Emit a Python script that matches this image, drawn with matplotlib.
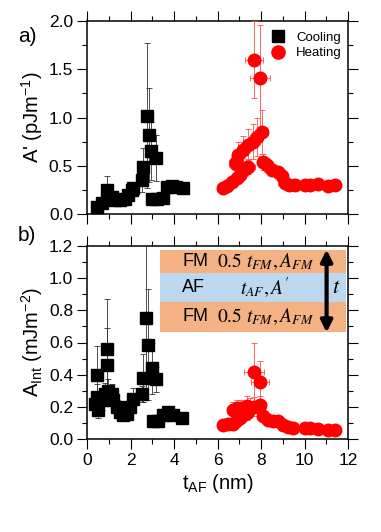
import matplotlib
matplotlib.use("Agg")
import matplotlib.pyplot as plt
from matplotlib.patches import Rectangle
from matplotlib.lines import Line2D
from matplotlib.ticker import MultipleLocator

plt.rcParams['font.family'] = ['Liberation Sans', 'DejaVu Sans']
plt.rcParams['mathtext.fontset'] = 'stix'

# ---------- Data: panel a (A') ----------
cool_a_x = [0.45, 0.67, 0.90, 1.13, 1.29, 1.52, 1.75, 1.90, 2.05, 2.12, 2.51, 2.59,
            2.74, 2.85, 2.94, 3.17, 2.97, 3.20, 3.50, 3.66, 3.90, 4.10, 4.43]
cool_a_y = [0.07, 0.11, 0.25, 0.18, 0.14, 0.145, 0.16, 0.20, 0.25, 0.27, 0.35, 0.49,
            1.02, 0.82, 0.65, 0.58, 0.16, 0.16, 0.17, 0.28, 0.29, 0.28, 0.27]
cool_a_yerr = [0.03, 0.03, 0.14, 0.04, 0.03, 0.03, 0.03, 0.05, 0.06, 0.06, 0.12, 0.19,
               0.75, 0.49, 0.30, 0.24, 0.03, 0.03, 0.03, 0.04, 0.04, 0.03, 0.03]

heat_a_x = [6.83, 6.85, 6.96, 7.19, 7.40, 7.65, 7.80, 8.03,
            7.69, 7.95,
            6.27, 6.42, 6.65, 6.88, 7.03, 7.26, 7.41,
            8.11, 8.26, 8.49, 8.80, 8.95, 9.10, 9.30, 9.56, 10.02, 10.26, 10.64, 11.10, 11.40]
heat_a_y = [0.52, 0.54, 0.61, 0.66, 0.72, 0.75, 0.80, 0.85,
            1.60, 1.41,
            0.27, 0.29, 0.33, 0.37, 0.40, 0.47, 0.49,
            0.54, 0.51, 0.46, 0.44, 0.39, 0.32, 0.30, 0.30, 0.30, 0.30, 0.31, 0.29, 0.30]
heat_a_yerr = [0.10, 0.12, 0.14, 0.15, 0.16, 0.18, 0.20, 0.23,
               0.40, 0.55,
               0.04, 0.04, 0.05, 0.06, 0.07, 0.08, 0.08,
               0.08, 0.07, 0.06, 0.05, 0.05, 0.03, 0.03, 0.03, 0.02, 0.02, 0.02, 0.02, 0.02]
heat_a_xerr = [0.30, 0.30, 0.30, 0.30, 0.30, 0.30, 0.30, 0.30,
               0.42, 0.45,
               0.30, 0.30, 0.30, 0.30, 0.30, 0.30, 0.30,
               0.30, 0.30, 0.30, 0.30, 0.30, 0.30, 0.30, 0.30, 0.30, 0.30, 0.30, 0.30, 0.30]

# ---------- Data: panel b (A_Int) ----------
cool_b_x = [0.47, 0.90, 0.90, 0.45, 0.37, 0.52, 0.68, 0.83, 0.98, 1.13, 1.20, 1.37,
            1.52, 1.67, 1.82, 1.98, 2.13, 2.51, 2.71, 2.82, 2.59, 2.97, 3.16,
            3.05, 3.28, 3.50, 3.74, 3.97, 4.35]
cool_b_y = [0.40, 0.56, 0.46, 0.26, 0.22, 0.18, 0.24, 0.28, 0.30, 0.28, 0.24, 0.20,
            0.17, 0.15, 0.155, 0.20, 0.25, 0.28, 0.755, 0.585, 0.38, 0.44, 0.37,
            0.11, 0.115, 0.15, 0.165, 0.15, 0.13]
cool_b_yerr = [0.18, 0.31, 0.23, 0.08, 0.06, 0.05, 0.06, 0.07, 0.07, 0.06, 0.05, 0.04,
               0.03, 0.03, 0.03, 0.04, 0.07, 0.05, 0.50, 0.345, 0.15, 0.16, 0.08,
               0.02, 0.02, 0.02, 0.02, 0.02, 0.02]

heat_b_x = [7.69, 7.95,
            6.73, 6.88, 7.10, 7.34, 7.50, 7.70, 7.95,
            6.27, 6.50, 6.73, 6.88, 7.03, 7.19, 7.34,
            8.11, 8.34, 8.57, 8.80, 9.03, 9.26, 9.49, 10.02, 10.25, 10.64, 11.10, 11.40]
heat_b_y = [0.415, 0.356,
            0.18, 0.19, 0.195, 0.205, 0.195, 0.20, 0.21,
            0.087, 0.095, 0.095, 0.118, 0.13, 0.15, 0.16,
            0.14, 0.12, 0.11, 0.11, 0.087, 0.075, 0.066, 0.066, 0.066, 0.06, 0.056, 0.056]
heat_b_yerr = [0.185, 0.13,
               0.05, 0.05, 0.05, 0.06, 0.06, 0.06, 0.06,
               0.02, 0.02, 0.02, 0.03, 0.03, 0.04, 0.04,
               0.03, 0.02, 0.02, 0.02, 0.01, 0.01, 0.01, 0.01, 0.01, 0.01, 0.01, 0.01]
heat_b_xerr = [0.45, 0.40,
               0.30, 0.30, 0.30, 0.30, 0.30, 0.30, 0.30,
               0.30, 0.30, 0.30, 0.30, 0.30, 0.30, 0.30,
               0.30, 0.30, 0.30, 0.30, 0.30, 0.30, 0.30, 0.30, 0.30, 0.30, 0.30, 0.30]

cool_xerr = 0.1

legend_labels = ["Cooling", "Heating"]
inset_rows = [("FM", r"$0.5\ t_{FM}, A_{FM}$"), ("AF", r"$t_{AF}, A'$"), ("FM", r"$0.5\ t_{FM}, A_{FM}$")]

# ---------- Figure ----------
W, H = 381, 532
fig = plt.figure(figsize=(W / 100, H / 100), dpi=100)
axA = fig.add_axes([87 / W, (H - 214) / H, 261 / W, 193 / H])
axB = fig.add_axes([87 / W, (H - 439) / H, 261 / W, 193 / H])

cool_kw = dict(fmt='s', color='black', ms=8.5, mec='black', ecolor='#333333',
               elinewidth=0.6, capsize=2.5, capthick=0.6, zorder=3)
heat_kw = dict(fmt='o', color='red', ms=9, mec='red', ecolor='#ff4d4d',
               elinewidth=0.6, capsize=2.5, capthick=0.6, zorder=3)

axA.errorbar(cool_a_x, cool_a_y, yerr=cool_a_yerr, xerr=cool_xerr, **cool_kw)
axA.errorbar(heat_a_x, heat_a_y, yerr=heat_a_yerr, xerr=heat_a_xerr, **heat_kw)
axB.errorbar(cool_b_x, cool_b_y, yerr=cool_b_yerr, xerr=cool_xerr, **cool_kw)
axB.errorbar(heat_b_x, heat_b_y, yerr=heat_b_yerr, xerr=heat_b_xerr, **heat_kw)

for ax in (axA, axB):
    ax.set_xlim(0, 12)
    ax.xaxis.set_major_locator(MultipleLocator(2))
    ax.xaxis.set_minor_locator(MultipleLocator(1))
    ax.tick_params(which='both', direction='out', top=True, right=True,
                   width=0.8, labelsize=12.5, pad=3)
    ax.tick_params(which='major', length=7)
    ax.tick_params(which='minor', length=3.5)
    for s in ax.spines.values():
        s.set_linewidth(1.1)

axA.set_ylim(0, 2.0)
axA.yaxis.set_major_locator(MultipleLocator(0.5))
axA.yaxis.set_minor_locator(MultipleLocator(0.25))
axA.tick_params(labelbottom=False)
axA.set_ylabel(r"A' (pJm$\mathregular{^{-1}}$)", fontsize=14.5, labelpad=3)

axB.set_ylim(0, 1.2)
axB.yaxis.set_major_locator(MultipleLocator(0.2))
axB.yaxis.set_minor_locator(MultipleLocator(0.1))
axB.set_ylabel(r"A$\mathregular{_{Int}}$ (mJm$\mathregular{^{-2}}$)", fontsize=14.5, labelpad=3)
axB.set_xlabel(r"t$\mathregular{_{AF}}$ (nm)", fontsize=14.5, labelpad=3)

fig.text(18 / W, 1 - 37 / H, "a)", fontsize=15, ha='left', va='center')
fig.text(18 / W, 1 - 236 / H, "b)", fontsize=15, ha='left', va='center')

# legend
handles = [Line2D([], [], ls='none', marker='s', color='black', ms=8.5),
           Line2D([], [], ls='none', marker='o', color='red', ms=9.5)]
axA.legend(handles, legend_labels, loc='upper left', bbox_to_anchor=(0.665, 1.0),
           frameon=False, fontsize=9.5, handlelength=1.0, handletextpad=0.9,
           labelspacing=0.25, borderpad=0.3)

# inset schematic
bands = [(0.858, 0.979, '#F4B183'), (0.711, 0.858, '#BDD7EE'), (0.554, 0.711, '#F4B183')]
for y0, y1, c in bands:
    axB.add_patch(Rectangle((0.280, y0), 0.712, y1 - y0, transform=axB.transAxes,
                            facecolor=c, edgecolor='none', zorder=4))
row_y = [0.918, 0.785, 0.634]
for (lab, mt), yy in zip(inset_rows, row_y):
    axB.text(0.365, yy, lab, transform=axB.transAxes, fontsize=13,
             ha='left', va='center', zorder=5)
    axB.text(0.682, yy, mt, transform=axB.transAxes, fontsize=14,
             ha='center', va='center', zorder=5)
axB.annotate('', xy=(0.918, 0.552), xytext=(0.918, 0.981), xycoords='axes fraction',
             arrowprops=dict(arrowstyle='<|-|>', color='black', lw=3,
                             mutation_scale=17, shrinkA=0, shrinkB=0), zorder=6)
axB.text(0.955, 0.785, r"$t$", transform=axB.transAxes, fontsize=16,
         ha='center', va='center', zorder=5)

fig.savefig("out.png", dpi=100)
